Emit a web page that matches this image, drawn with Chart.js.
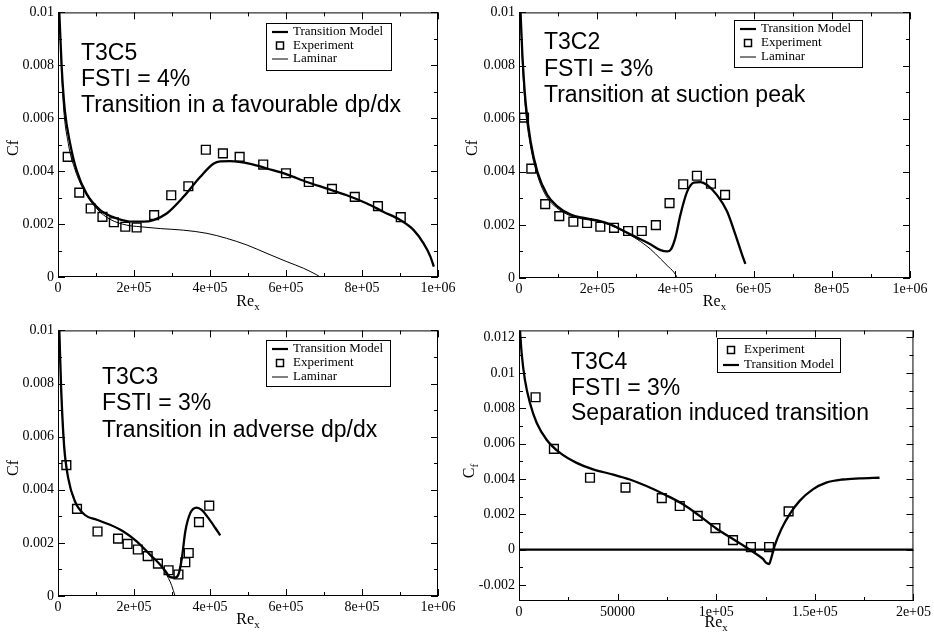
<!DOCTYPE html>
<html>
<head>
<meta charset="utf-8">
<style>
html, body { margin: 0; padding: 0; background: #fff; }
body { width: 934px; height: 636px; position: relative; overflow: hidden; }
canvas { position: absolute; }
</style>
<script src="https://cdn.jsdelivr.net/npm/chart.js@4.4.1/dist/chart.umd.min.js"></script>
</head>
<body>
<canvas id="c1"></canvas>
<canvas id="c2"></canvas>
<canvas id="c3"></canvas>
<canvas id="c4"></canvas>
<script>
// ---- T3C5 (favourable dp/dx) ----
const t3c5ExpRe = [25500, 56000, 86000, 117000, 147000, 177000, 207000, 253000, 298000, 343000, 389000, 434000, 478000, 540000, 600000, 660000, 721000, 781000, 842000, 902000];
const t3c5ExpCf = [0.00454, 0.00319, 0.00259, 0.00227, 0.00207, 0.0019, 0.00187, 0.00234, 0.00309, 0.00343, 0.00481, 0.00467, 0.00454, 0.00425, 0.00392, 0.00359, 0.00333, 0.00303, 0.00268, 0.00226];
const t3c5ModelRe = [3500, 9700, 18000, 32000, 49000, 75000, 111000, 155000, 198000, 225000, 251000, 286000, 330000, 374000, 409000, 427000, 453000, 506000, 550000, 602000, 655000, 708000, 760000, 813000, 857000, 901000, 936000, 962000, 980000, 989000];
const t3c5ModelCf = [0.0100, 0.00793, 0.0063, 0.00504, 0.00403, 0.00315, 0.00253, 0.00221, 0.00209, 0.00209, 0.00215, 0.0024, 0.00303, 0.00378, 0.00428, 0.00437, 0.00438, 0.00428, 0.0041, 0.00388, 0.00359, 0.00334, 0.00309, 0.00278, 0.00246, 0.00215, 0.00177, 0.00127, 0.00077, 0.00039];
const t3c5LamRe = [3000, 14000, 27000, 45000, 71000, 102000, 137000, 181000, 216000, 269000, 330000, 392000, 444000, 497000, 550000, 602000, 646000, 681000, 690000];
const t3c5LamCf = [0.0100, 0.00655, 0.00505, 0.00405, 0.0032, 0.00258, 0.00218, 0.00196, 0.0019, 0.00183, 0.00177, 0.00165, 0.00146, 0.00121, 0.00089, 0.00058, 0.00033, 0.00008, 0];

// ---- T3C2 (suction peak) ----
const t3c2ExpRe = [12800, 31500, 67000, 103000, 139000, 174000, 208000, 243000, 279000, 314000, 350000, 385000, 420000, 455000, 491000, 527000];
const t3c2ExpCf = [0.00604, 0.00412, 0.00278, 0.00233, 0.00212, 0.00207, 0.00193, 0.00189, 0.00177, 0.00177, 0.00199, 0.00282, 0.00353, 0.00385, 0.00355, 0.00313];
const t3c2ModelRe = [4000, 8500, 17000, 30000, 47000, 72000, 98000, 132000, 166000, 200000, 234000, 268000, 302000, 336000, 362000, 379000, 389000, 400000, 413000, 430000, 447000, 464000, 481000, 506000, 532000, 553000, 570000, 579000];
const t3c2ModelCf = [0.0100, 0.00845, 0.0066, 0.00511, 0.0040, 0.00313, 0.0027, 0.00239, 0.00226, 0.00217, 0.00202, 0.00177, 0.00152, 0.00127, 0.00105, 0.0010, 0.00109, 0.00152, 0.00239, 0.00325, 0.00359, 0.00361, 0.0035, 0.00313, 0.00251, 0.00165, 0.0009, 0.00053];
const t3c2LamRe = [3500, 8000, 16000, 29000, 46000, 70000, 96000, 130000, 164000, 198000, 232000, 268000, 302000, 336000, 362000, 379000, 396000, 404000];
const t3c2LamCf = [0.0100, 0.0083, 0.00645, 0.005, 0.00392, 0.00307, 0.00265, 0.00235, 0.00222, 0.00214, 0.002, 0.00175, 0.00146, 0.00109, 0.00072, 0.00047, 0.00022, 0.00004];

// ---- T3C3 (adverse dp/dx) ----
const t3c3ExpRe = [22000, 50000, 104000, 158000, 183000, 210000, 236000, 263000, 291000, 317000, 335000, 344000, 371000, 398000];
const t3c3ExpCf = [0.00493, 0.00328, 0.00243, 0.00216, 0.00196, 0.00175, 0.0015, 0.00122, 0.00097, 0.00081, 0.00127, 0.00162, 0.00278, 0.0034];
const t3c3ModelRe = [3500, 8000, 16000, 27000, 45000, 71000, 102000, 137000, 172000, 207000, 242000, 269000, 286000, 295000, 308000, 317000, 326000, 335000, 348000, 365000, 378000, 396000, 414000, 427000];
const t3c3ModelCf = [0.0100, 0.00792, 0.00567, 0.00443, 0.00355, 0.00305, 0.00287, 0.00268, 0.00243, 0.00206, 0.00156, 0.00118, 0.00087, 0.00071, 0.00069, 0.00081, 0.00143, 0.00243, 0.00312, 0.00333, 0.00324, 0.00293, 0.00256, 0.00228];
const t3c3LamRe = [3500, 8000, 16000, 27000, 45000, 71000, 102000, 137000, 172000, 207000, 242000, 269000, 280000, 291000, 299000, 308000];
const t3c3LamCf = [0.0100, 0.00792, 0.00567, 0.00443, 0.00355, 0.00305, 0.00287, 0.00268, 0.00243, 0.00206, 0.00156, 0.00118, 0.00094, 0.00066, 0.0004, 0];

// ---- T3C4 (separation induced) ----
const t3c4ExpRe = [8400, 17700, 36000, 54000, 72400, 81500, 90600, 99600, 108500, 117600, 126800, 136700];
const t3c4ExpCf = [0.00862, 0.0057, 0.00407, 0.00351, 0.00292, 0.00247, 0.00191, 0.00122, 0.00054, 0.00015, 0.00015, 0.00217];
const t3c4ModelRe = [500, 1350, 3000, 5600, 9000, 14000, 20800, 29200, 37600, 47800, 56200, 64600, 74800, 83200, 91600, 100000, 108500, 115300, 120300, 123700, 125400, 126800, 128000, 129600, 133000, 137200, 142300, 149000, 155800, 164200, 172700, 182800];
const t3c4ModelCf = [0.0124, 0.0111, 0.0096, 0.00828, 0.00716, 0.00622, 0.00547, 0.00491, 0.00454, 0.00425, 0.00397, 0.0036, 0.00307, 0.00257, 0.00191, 0.0012, 0.0006, 0.00013, -0.00024, -0.00052, -0.00075, -0.00081, -0.00043, 0.00022, 0.00116, 0.002, 0.00276, 0.00341, 0.00379, 0.00397, 0.00403, 0.00407];
const t3c4ZeroRe = [0, 200000];
const t3c4ZeroCf = [0, 0];

// ---- axes ticks ----
const reTicks = [0, 200000, 400000, 600000, 800000, 1000000];
const reTickLabels = ['0', '2e+05', '4e+05', '6e+05', '8e+05', '1e+06'];
const reMinor = [100000, 300000, 500000, 700000, 900000];
const cfTicks = [0, 0.002, 0.004, 0.006, 0.008, 0.01];
const cfTickLabels = ['0', '0.002', '0.004', '0.006', '0.008', '0.01'];
const cfMinor = [0.001, 0.003, 0.005, 0.007, 0.009];
const re4Ticks = [0, 50000, 100000, 150000, 200000];
const re4TickLabels = ['0', '50000', '1e+05', '1.5e+05', '2e+05'];
const re4Minor = [25000, 75000, 125000, 175000];
const cf4Ticks = [-0.002, 0, 0.002, 0.004, 0.006, 0.008, 0.01, 0.012];
const cf4TickLabels = ['-0.002', '0', '0.002', '0.004', '0.006', '0.008', '0.01', '0.012'];
const cf4Minor = [-0.001, 0.001, 0.003, 0.005, 0.007, 0.009, 0.011];

const serif = '"Liberation Serif", "Times New Roman", serif';
const sans = '"Liberation Sans", Arial, sans-serif';

const pts = (xs, ys) => xs.map((x, i) => ({ x: x, y: ys[i] }));

function modelSet(xs, ys) {
	return { data: pts(xs, ys), showLine: true, borderColor: '#000', borderWidth: 2.3, pointRadius: 0, cubicInterpolationMode: 'monotone' };
}
function lamSet(xs, ys) {
	return { data: pts(xs, ys), showLine: true, borderColor: '#000', borderWidth: 1, pointRadius: 0, cubicInterpolationMode: 'monotone' };
}
function expSet(xs, ys) {
	return { data: pts(xs, ys), showLine: false, pointStyle: 'rect', pointRadius: 6.2, borderColor: '#000', borderWidth: 1.4, backgroundColor: 'rgba(0,0,0,0)' };
}

const stdX = { min: 0, max: 1000000, major: reTicks, labels: reTickLabels, minor: reMinor };
const stdY = { min: 0, max: 0.01, major: cfTicks, labels: cfTickLabels, minor: cfMinor };

const panels = [
	{
		id: 'c1', ox: 0, oy: 0, w: 467, h: 318, area: [58, 12, 438, 277],
		x: stdX, y: stdY,
		datasets: [expSet(t3c5ExpRe, t3c5ExpCf), modelSet(t3c5ModelRe, t3c5ModelCf), lamSet(t3c5LamRe, t3c5LamCf)],
		notes: { x: 81, y: [60, 86, 112], text: ['T3C5', 'FSTI = 4%', 'Transition in a favourable dp/dx'] },
		legend: { box: [266, 23, 391, 70], rows: [32, 45.5, 59], items: [['thick', 'Transition Model'], ['square', 'Experiment'], ['thin', 'Laminar']] },
		yTitle: { x: 13, y: 148, main: 'Cf', sub: '' }, xBase: 306,
	},
	{
		id: 'c2', ox: 460, oy: 0, w: 474, h: 318, area: [519, 8, 910, 278],
		x: stdX, y: stdY,
		datasets: [expSet(t3c2ExpRe, t3c2ExpCf), modelSet(t3c2ModelRe, t3c2ModelCf), lamSet(t3c2LamRe, t3c2LamCf)],
		notes: { x: 544, y: [49, 76, 102], text: ['T3C2', 'FSTI = 3%', 'Transition at suction peak'] },
		legend: { box: [734, 20, 862, 67], rows: [29, 43, 57], items: [['thick', 'Transition Model'], ['square', 'Experiment'], ['thin', 'Laminar']] },
		yTitle: { x: 472, y: 148, main: 'Cf', sub: '' }, xBase: 306,
	},
	{
		id: 'c3', ox: 0, oy: 318, w: 467, h: 318, area: [58, 329, 438, 596],
		x: stdX, y: stdY,
		datasets: [expSet(t3c3ExpRe, t3c3ExpCf), modelSet(t3c3ModelRe, t3c3ModelCf), lamSet(t3c3LamRe, t3c3LamCf)],
		notes: { x: 102, y: [384, 410, 437], text: ['T3C3', 'FSTI = 3%', 'Transition in adverse dp/dx'] },
		legend: { box: [266, 340, 390, 386], rows: [349, 363, 377], items: [['thick', 'Transition Model'], ['square', 'Experiment'], ['thin', 'Laminar']] },
		yTitle: { x: 13, y: 468, main: 'Cf', sub: '' }, xBase: 624,
	},
	{
		id: 'c4', ox: 460, oy: 318, w: 474, h: 318, area: [519, 328, 914, 601],
		x: { min: 0, max: 200000, major: re4Ticks, labels: re4TickLabels, minor: re4Minor },
		y: { min: -0.0029, max: 0.0124, major: cf4Ticks, labels: cf4TickLabels, minor: cf4Minor },
		datasets: [expSet(t3c4ExpRe, t3c4ExpCf), modelSet(t3c4ModelRe, t3c4ModelCf), modelSet(t3c4ZeroRe, t3c4ZeroCf)],
		notes: { x: 571, y: [369, 395, 420], text: ['T3C4', 'FSTI = 3%', 'Separation induced transition'] },
		legend: { box: [717, 338, 840, 372], rows: [350, 365], items: [['square', 'Experiment'], ['thick', 'Transition Model']] },
		yTitle: { x: 469, y: 471, main: 'C', sub: 'f' }, xBase: 627,
	},
];

// text with optional subscript, centred on cx
function subText(ctx, main, sub, cx, base) {
	ctx.font = '16px ' + serif;
	const w1 = ctx.measureText(main).width;
	ctx.font = '11px ' + serif;
	const w2 = sub ? ctx.measureText(sub).width : 0;
	const x0 = cx - (w1 + w2) / 2;
	ctx.font = '16px ' + serif;
	ctx.fillText(main, x0, base);
	if (sub) {
		ctx.font = '11px ' + serif;
		ctx.fillText(sub, x0 + w1, base + 4);
	}
}

function decor(p) {
	return {
		id: 'decor',
		afterDraw(chart) {
			const ctx = chart.ctx;
			const a = chart.chartArea;
			const sx = chart.scales.x, sy = chart.scales.y;
			const ox = p.ox, oy = p.oy;
			ctx.save();
			ctx.strokeStyle = '#000';
			ctx.fillStyle = '#000';
			ctx.lineWidth = 1;
			// frame
			ctx.strokeRect(a.left + 0.5, a.top + 0.5, a.right - a.left - 1, a.bottom - a.top - 1);
			// inward ticks on all four sides
			ctx.beginPath();
			const xt = (v, len) => {
				const px = Math.round(sx.getPixelForValue(v)) + 0.5;
				ctx.moveTo(px, a.bottom); ctx.lineTo(px, a.bottom - len);
				ctx.moveTo(px, a.top); ctx.lineTo(px, a.top + len);
			};
			const yt = (v, len) => {
				const py = Math.round(sy.getPixelForValue(v)) + 0.5;
				ctx.moveTo(a.left, py); ctx.lineTo(a.left + len, py);
				ctx.moveTo(a.right, py); ctx.lineTo(a.right - len, py);
			};
			p.x.major.forEach(v => xt(v, 7));
			p.x.minor.forEach(v => xt(v, 4));
			p.y.major.forEach(v => yt(v, 7));
			p.y.minor.forEach(v => yt(v, 4));
			ctx.stroke();

			// axis titles
			ctx.textAlign = 'left';
			ctx.textBaseline = 'alphabetic';
			subText(ctx, 'Re', 'x', (a.left + a.right) / 2, p.xBase - oy);
			ctx.save();
			ctx.translate(p.yTitle.x - ox, p.yTitle.y - oy);
			ctx.rotate(-Math.PI / 2);
			subText(ctx, p.yTitle.main, p.yTitle.sub, 0, 5);
			ctx.restore();

			// case annotation
			ctx.font = '23px ' + sans;
			p.notes.text.forEach((t, i) => ctx.fillText(t, p.notes.x - ox, p.notes.y[i] - oy));

			// legend
			const lg = p.legend;
			const bx = lg.box[0] - ox, by = lg.box[1] - oy;
			const bw = lg.box[2] - lg.box[0], bh = lg.box[3] - lg.box[1];
			ctx.fillStyle = '#fff';
			ctx.fillRect(bx, by, bw, bh);
			ctx.fillStyle = '#000';
			ctx.lineWidth = 1;
			ctx.strokeRect(bx + 0.5, by + 0.5, bw, bh);
			ctx.font = '13px ' + serif;
			ctx.textBaseline = 'middle';
			lg.items.forEach((it, i) => {
				const ry = lg.rows[i] - oy;
				if (it[0] === 'square') {
					ctx.lineWidth = 1.5;
					ctx.strokeRect(bx + 10.5, ry - 3.5, 7, 7);
				} else {
					ctx.lineWidth = it[0] === 'thick' ? 2.2 : 1;
					ctx.beginPath();
					ctx.moveTo(bx + 6, ry);
					ctx.lineTo(bx + 22, ry);
					ctx.stroke();
				}
				ctx.fillText(it[1], bx + 27, ry);
			});
			ctx.restore();
		},
	};
}

// axis box sizes are fixed so the plot area lands where the reference has it
function axis(ax, dir, size) {
	return {
		type: 'linear',
		min: ax.min,
		max: ax.max,
		grid: { display: false, drawTicks: false },
		border: { display: false },
		ticks: {
			autoSkip: false,
			maxRotation: 0,
			minRotation: 0,
			padding: dir === 'x' ? 3 : 4,
			color: '#000',
			font: { family: serif, size: 14 },
			callback: (v, i) => ax.labels[i],
		},
		afterBuildTicks: s => { s.ticks = ax.major.map(v => ({ value: v })); },
		afterFit: s => { if (dir === 'x') s.height = size; else s.width = size; },
	};
}

panels.forEach(p => {
	const cv = document.getElementById(p.id);
	cv.width = p.w;
	cv.height = p.h;
	cv.style.left = p.ox + 'px';
	cv.style.top = p.oy + 'px';
	new Chart(cv, {
		type: 'scatter',
		data: { datasets: p.datasets },
		options: {
			responsive: false,
			animation: false,
			devicePixelRatio: 1,
			layout: {
				padding: {
					left: 0,
					top: p.area[1] - p.oy,
					right: p.ox + p.w - p.area[2],
					bottom: 0,
				},
			},
			plugins: { legend: { display: false }, tooltip: { enabled: false } },
			scales: {
				x: axis(p.x, 'x', p.oy + p.h - p.area[3]),
				y: axis(p.y, 'y', p.area[0] - p.ox),
			},
		},
		plugins: [decor(p)],
	});
});
</script>
</body>
</html>
